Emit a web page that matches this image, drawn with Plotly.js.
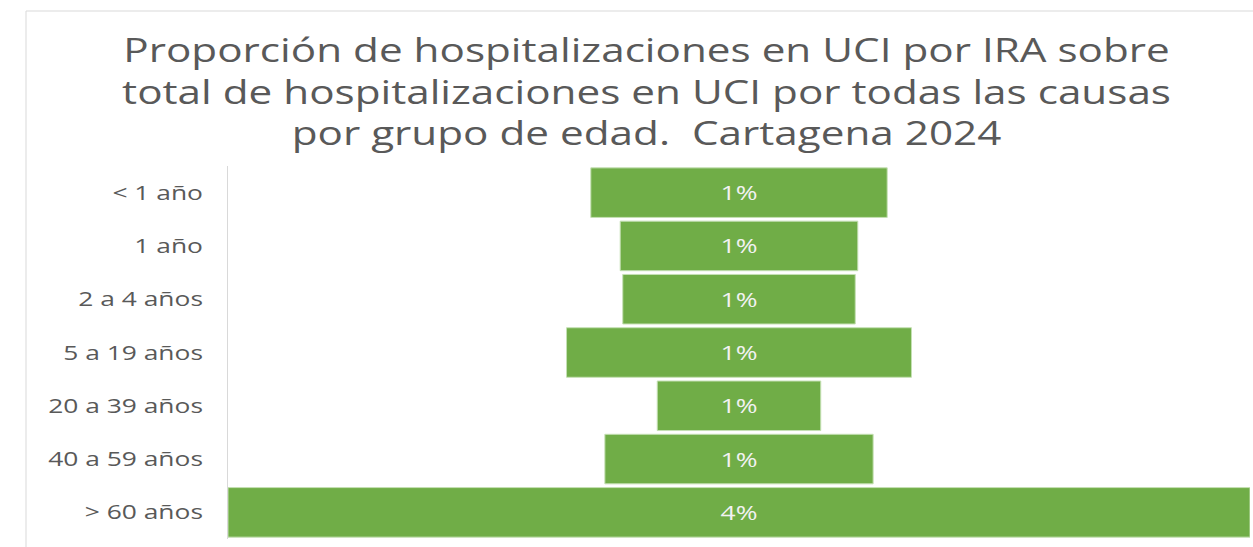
<!DOCTYPE html>
<html>
<head>
<meta charset="utf-8">
<script src="https://cdn.plot.ly/plotly-3.0.1.min.js"></script>
<style>
  html, body { margin: 0; padding: 0; background: #fff; }
  #chart { width: 1253px; height: 547px; }
</style>
</head>
<body>
<div id="chart"></div>
<script>
// grupos de edad, de arriba hacia abajo
var grupos = ['< 1 año', '1 año', '2 a 4 años', '5 a 19 años', '20 a 39 años', '40 a 59 años', '> 60 años'];
// proporción (%) de hospitalizaciones en UCI por IRA
var proporcion = [1.16, 0.93, 0.91, 1.35, 0.64, 1.05, 4.0];

// the original export is stretched sideways; widen the text the same way
var STRETCH = 1.32;

function widen(el, anchor) {
    var b = el.getBBox();
    var cx = anchor === 'end' ? b.x + b.width : b.x + b.width / 2;
    var t = el.getAttribute('transform') || '';
    el.setAttribute('transform', t + ' translate(' + cx + ',0) scale(' + STRETCH + ',1) translate(' + (-cx) + ',0)');
}

document.addEventListener('DOMContentLoaded', function() {
    var chart = document.getElementById('chart');
    var maxVal = Math.max.apply(null, proporcion);

    var trace = {
        type: 'funnel',
        y: grupos,
        x: proporcion,
        orientation: 'h',
        texttemplate: '%{x:.0f}%',
        textposition: 'inside',
        insidetextanchor: 'middle',
        constraintext: 'none',
        textfont: { family: 'Open Sans', size: 20, color: '#f2f2f2' },
        marker: { color: '#70ad47', line: { color: '#c5e0b4', width: 1 } },
        connector: { visible: false },
        hoverinfo: 'y+x'
    };

    var layout = {
        width: 1253,
        height: 547,
        paper_bgcolor: '#ffffff',
        plot_bgcolor: '#ffffff',
        margin: { l: 228, r: 3, t: 166, b: 8, pad: 0 },
        title: {
            text: 'Proporción de hospitalizaciones en UCI por IRA sobre<br>total de hospitalizaciones en UCI por todas las causas<br>por grupo de edad.  Cartagena 2024',
            font: { family: 'Open Sans', size: 32, color: '#595959' },
            x: 0.516,
            xanchor: 'center',
            yref: 'container',
            y: 1 - 62 / 547,
            yanchor: 'middle'
        },
        xaxis: {
            range: [-maxVal / 2, maxVal / 2],
            visible: false,
            fixedrange: true
        },
        yaxis: {
            autorange: 'reversed',
            showline: true,
            linecolor: '#d9d9d9',
            linewidth: 1,
            ticks: '',
            ticklabelstandoff: 20,
            tickfont: { family: 'Open Sans', size: 20, color: '#595959' },
            showgrid: false,
            zeroline: false
        },
        funnelgap: 0.07,
        showlegend: false,
        shapes: [{
            type: 'rect',
            xref: 'paper', yref: 'paper',
            x0: (26 - 228) / 1022, x1: (1262 - 228) / 1022,
            y0: -0.1, y1: 1 + (166 - 11) / 373,
            line: { color: '#d9d9d9', width: 1 },
            fillcolor: 'rgba(0,0,0,0)',
            layer: 'below'
        }]
    };

    Plotly.newPlot(chart, [trace], layout, { displayModeBar: false, responsive: false, staticPlot: true })
        .then(function() {
            chart.querySelectorAll('.gtitle').forEach(function(el) { widen(el, 'middle'); });
            chart.querySelectorAll('.ytick text').forEach(function(el) { widen(el, 'end'); });
            chart.querySelectorAll('.bartext').forEach(function(el) { widen(el, 'middle'); });
        });
});
</script>
</body>
</html>
